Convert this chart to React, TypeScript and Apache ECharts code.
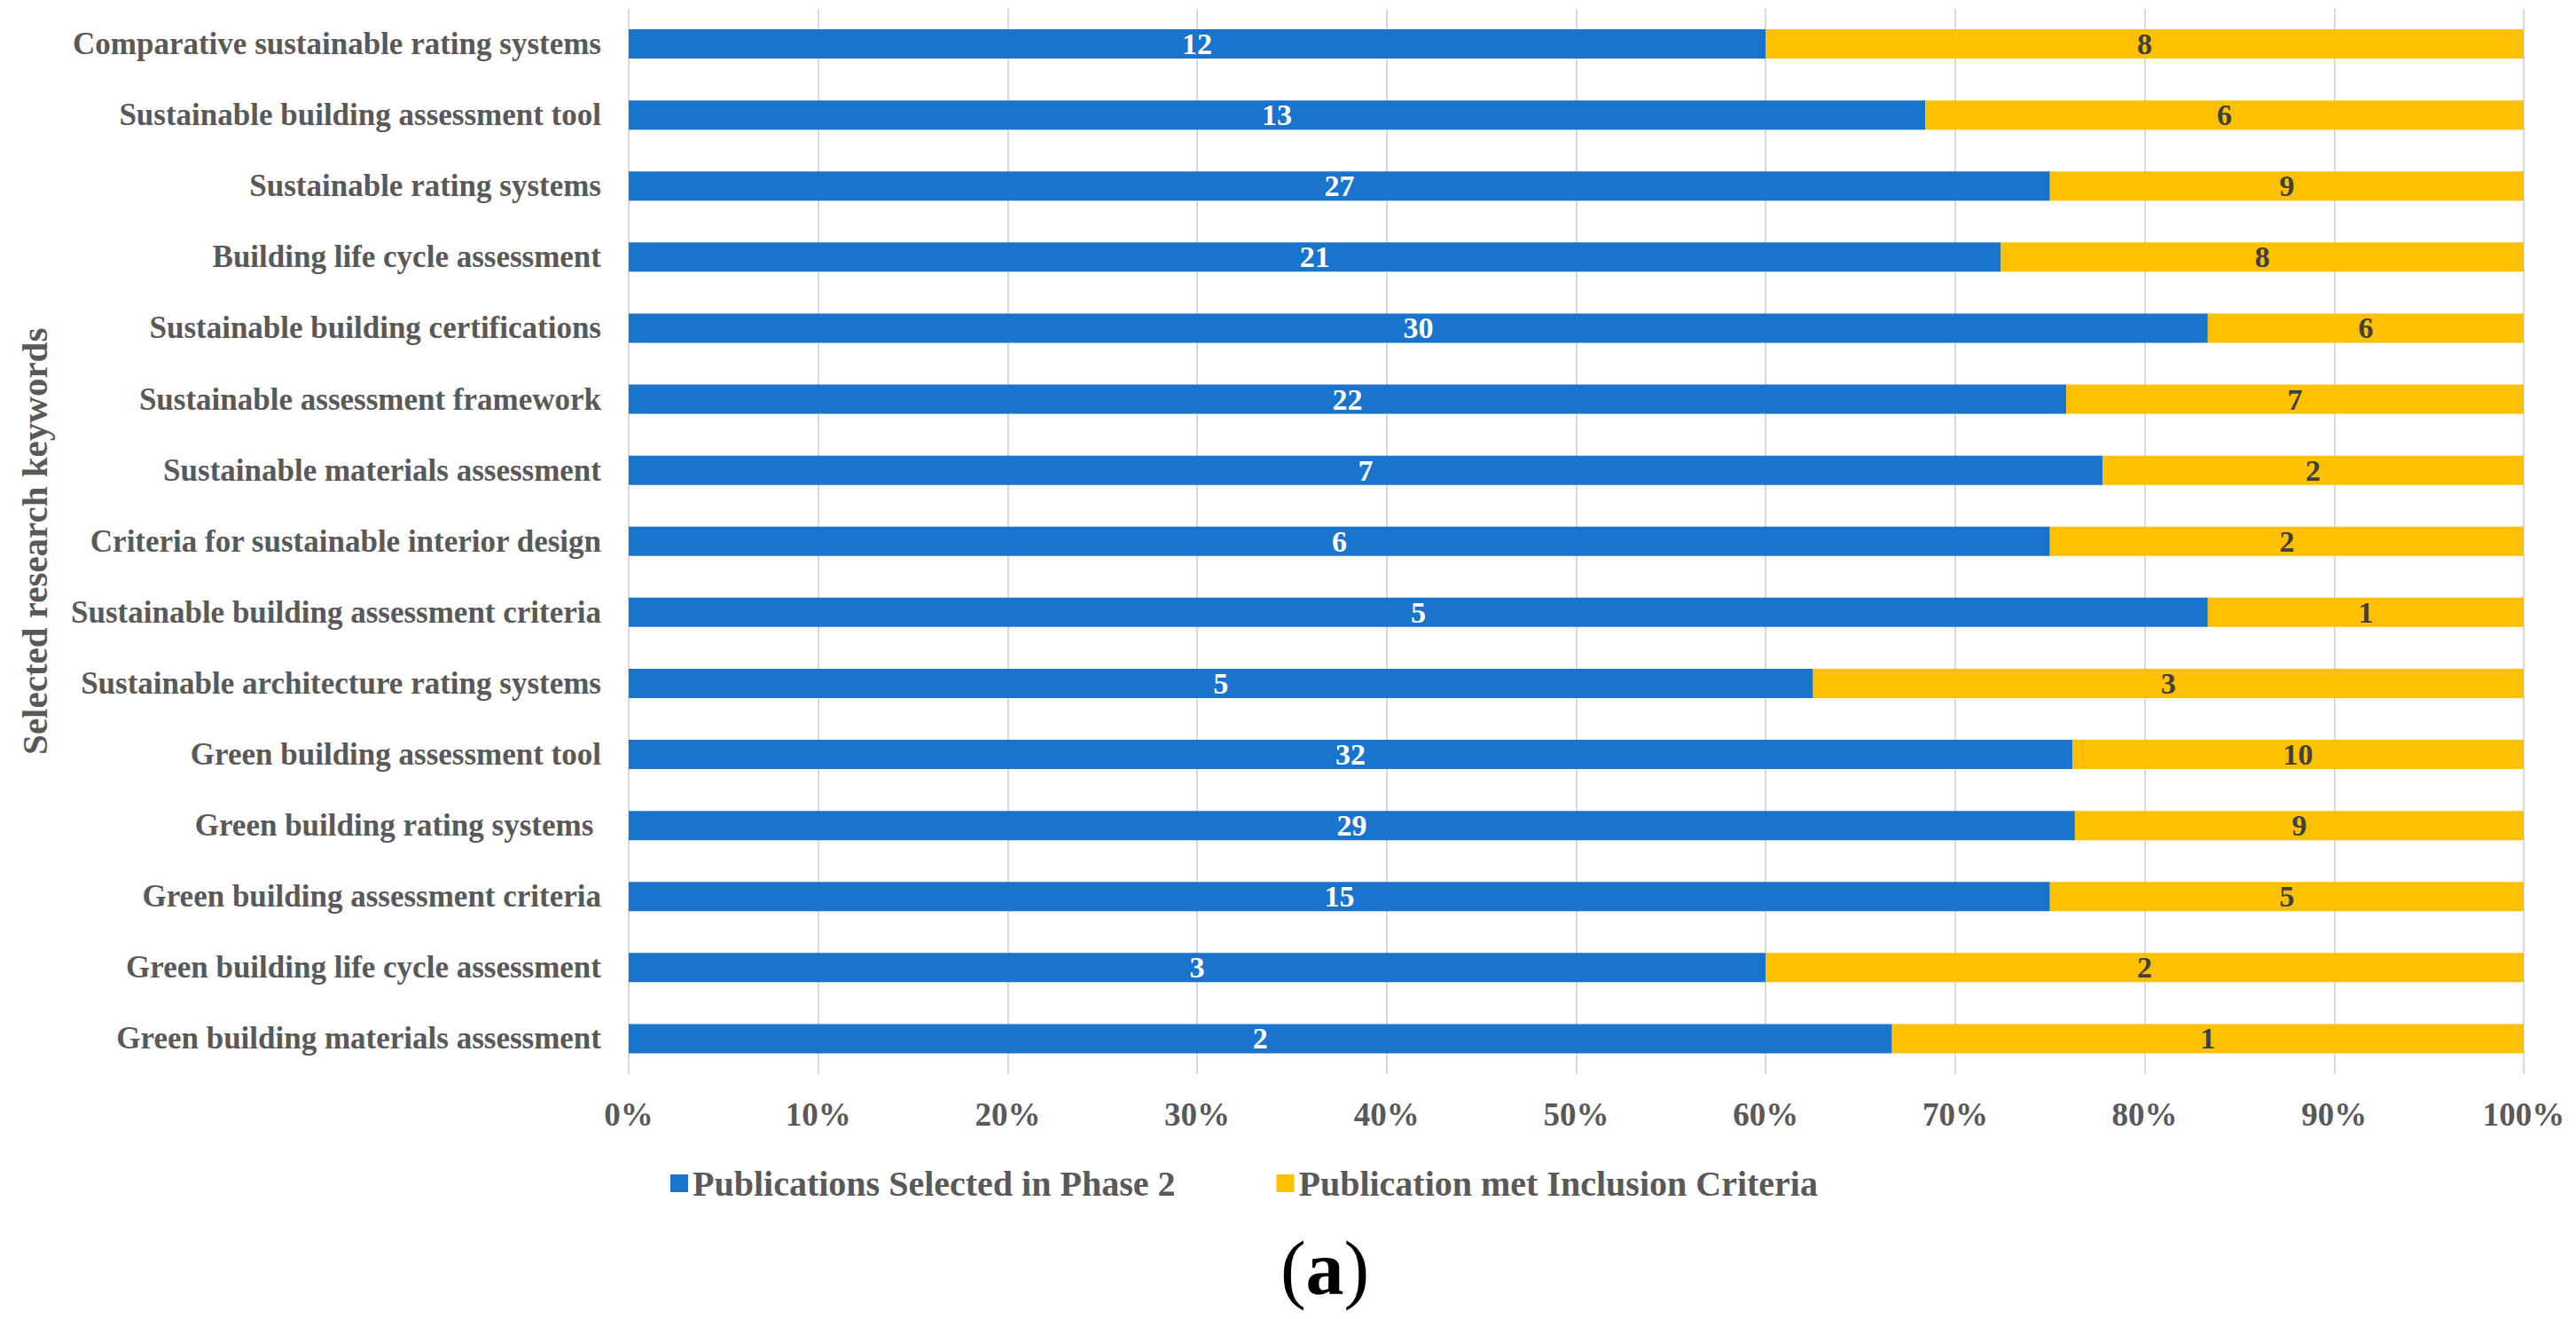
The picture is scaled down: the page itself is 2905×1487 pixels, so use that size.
import React, { useEffect, useRef } from "react";
import * as echarts from "echarts";

const categories = [
  "Comparative sustainable rating systems",
  "Sustainable building assessment tool",
  "Sustainable rating systems",
  "Building life cycle assessment",
  "Sustainable building certifications",
  "Sustainable assessment framework",
  "Sustainable materials assessment",
  "Criteria for sustainable interior design",
  "Sustainable building assessment criteria",
  "Sustainable architecture rating systems",
  "Green building assessment tool",
  "Green building rating systems ",
  "Green building assessment criteria",
  "Green building life cycle assessment",
  "Green building materials assessment",
];

const selectedPhase2 = [12, 13, 27, 21, 30, 22, 7, 6, 5, 5, 32, 29, 15, 3, 2];
const metInclusion = [8, 6, 9, 8, 6, 7, 2, 2, 1, 3, 10, 9, 5, 2, 1];

const seriesNames = ["Publications Selected in Phase 2", "Publication met Inclusion Criteria"];
const xTicks = [0, 0.1, 0.2, 0.3, 0.4, 0.5, 0.6, 0.7, 0.8, 0.9, 1];

const FONT = "'Liberation Serif', serif";

export default function App() {
  const ref = useRef<HTMLDivElement>(null);
  useEffect(() => {
    document.body.style.margin = "0";
    if (!ref.current) return;
    const chart = echarts.init(ref.current, null, { renderer: "svg" });
    const totals = selectedPhase2.map((v, i) => v + metInclusion[i]);
    const s1 = selectedPhase2.map((v, i) => ({ value: v / totals[i], raw: v }));
    const s2 = metInclusion.map((v, i) => ({ value: v / totals[i], raw: v }));
    chart.setOption({
      animation: false,
      backgroundColor: "#ffffff",
      textStyle: { fontFamily: FONT },
      grid: { left: 709, right: 59, top: 9.5, bottom: 276, containLabel: false },
      xAxis: {
        type: "value",
        min: xTicks[0],
        max: xTicks[xTicks.length - 1],
        interval: 0.1,
        axisLine: { show: false },
        axisTick: { show: false },
        splitLine: { show: true, lineStyle: { color: "#D9D9D9", width: 2 } },
        axisLabel: {
          margin: 27,
          color: "#595959",
          fontWeight: "bold",
          fontSize: 37,
          fontFamily: FONT,
          formatter: (v: number) => Math.round(v * 100) + "%",
        },
      },
      yAxis: {
        type: "category",
        inverse: true,
        data: categories,
        axisLine: { show: false },
        axisTick: { show: false },
        splitLine: { show: false },
        axisLabel: {
          margin: 31,
          color: "#595959",
          fontWeight: "bold",
          fontSize: 35,
          fontFamily: FONT,
        },
        name: "Selected research keywords",
        nameLocation: "middle",
        nameGap: 650,
        nameRotate: 90,
        nameTextStyle: {
          color: "#595959",
          fontWeight: "bold",
          fontSize: 41,
          fontFamily: FONT,
        },
      },
      legend: {
        left: 751,
        top: 1309,
        itemWidth: 20,
        itemHeight: 20,
        itemGap: 114,
        icon: "rect",
        textStyle: { color: "#595959", fontWeight: "bold", fontSize: 40, fontFamily: FONT },
        data: seriesNames,
      },
      graphic: [
        {
          type: "text",
          x: 1494,
          y: 1430,
          style: {
            text: "{p|(}{a|a}{p|)}",
            fill: "#000000",
            align: "center",
            verticalAlign: "middle",
            rich: {
              p: { fontSize: 86, fontFamily: FONT, fontWeight: "normal", fill: "#000000", lineHeight: 90 },
              a: { fontSize: 86, fontFamily: FONT, fontWeight: "bold", fill: "#000000", lineHeight: 90 },
            },
          },
        },
      ],
      series: [
        {
          name: seriesNames[0],
          type: "bar",
          stack: "total",
          barWidth: 33,
          data: s1,
          itemStyle: { color: "#1874CD" },
          label: {
            show: true,
            position: "inside",
            color: "#ffffff",
            fontWeight: "bold",
            fontSize: 34,
            fontFamily: FONT,
            formatter: (p: any) => String(p.data.raw),
          },
        },
        {
          name: seriesNames[1],
          type: "bar",
          stack: "total",
          barWidth: 33,
          data: s2,
          itemStyle: { color: "#FFC000" },
          label: {
            show: true,
            position: "inside",
            color: "#404040",
            fontWeight: "bold",
            fontSize: 34,
            fontFamily: FONT,
            formatter: (p: any) => String(p.data.raw),
          },
        },
      ],
    });
    return () => chart.dispose();
  }, []);
  return <div ref={ref} style={{ width: 2905, height: 1487 }} />;
}
